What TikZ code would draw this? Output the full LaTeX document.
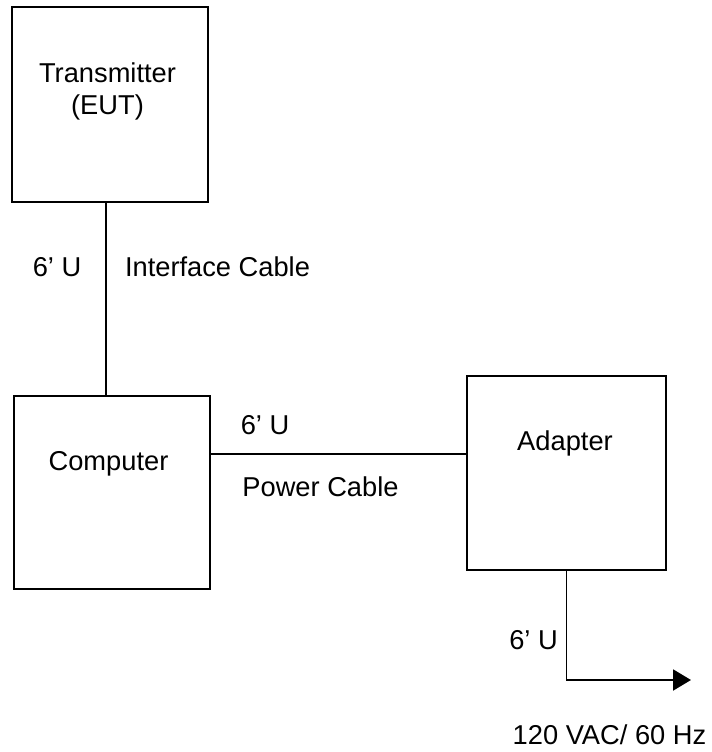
\documentclass[tikz,border=0pt]{standalone}
\usepackage{fontspec}
\setmainfont{Liberation Sans}
\usetikzlibrary{arrows.meta,positioning}

\begin{document}
\begin{tikzpicture}[
box/.style={draw, line width=1.4pt, inner sep=0pt},
lbl/.style={inner sep=0pt, align=center, font=\fontsize{19.4}{22.7}\selectfont},
cable/.style={line width=1.4pt},
arrow/.style={-{Triangle[length=4.5mm,width=5.25mm]}, line width=1.4pt}
]
\useasboundingbox (0,0) rectangle (17.775,-18.8);

\node[box, minimum width=4.9cm, minimum height=4.875cm] (tx) at (2.75,-2.6125) {};
\node[box, minimum width=4.9cm, minimum height=4.825cm] (pc) at (2.8,-12.3125) {};
\node[box, minimum width=4.975cm, minimum height=4.85cm] (ad) at (14.1625,-11.825) {};

\node[lbl] (txl) at (2.6875,-2.275) {Transmitter\\(EUT)};
\node[lbl] (pcl) at (2.7125,-11.6) {Computer};
\node[lbl] (adl) at (14.125,-11.075) {Adapter};

\node[lbl] (l1) at (1.425,-6.675) {6’ U};
\node[lbl] (l2) at (5.4375,-6.675) {Interface Cable};
\node[lbl] (l3) at (6.625,-10.625) {6’ U};
\node[lbl] (l4) at (8.0125,-12.175) {Power Cable};
\node[lbl] (l5) at (13.3375,-16.0) {6’ U};
\node[lbl] (l6) at (15.2375,-18.375) {120 VAC/ 60 Hz};

\coordinate (pw) at (0,-11.35);
\coordinate (out) at (17.275,-17.0);

\draw[cable] ([xshift=-1mm]tx.south) -- ([xshift=-1mm]tx.south |- pc.north);
\draw[cable] (pc.east |- pw) -- (ad.west |- pw);
\draw[arrow] (ad.south) |- (out);

\end{tikzpicture}
\end{document}
